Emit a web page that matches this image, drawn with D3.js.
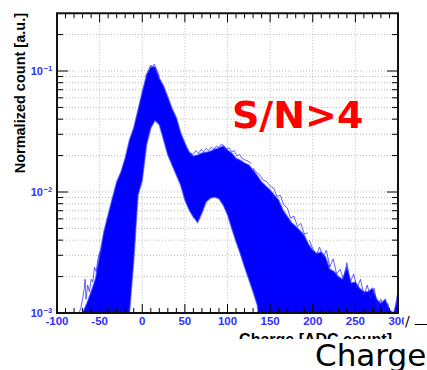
<!DOCTYPE html>
<html>
<head>
<meta charset="utf-8">
<script src="https://cdn.jsdelivr.net/npm/d3@7"></script>
<style>
  html, body { margin: 0; padding: 0; background: #fff; }
  svg { display: block; }
</style>
</head>
<body>
<svg id="chart" width="427" height="370"></svg>
<script>
// bin centres of the overlaid charge spectra
const charge = [-80, -75, -70, -65, -60, -55, -50, -45, -40, -35, -30, -25, -20, -15, -10, -5,
  0, 5, 10, 15, 20, 25, 30, 35, 40, 45, 50, 55, 60, 65, 70, 75, 80, 85, 90, 95,
  100, 105, 110, 115, 120, 125, 130, 135, 140, 145, 150, 155, 160, 165, 170, 175, 180, 185, 190, 195,
  200, 205, 210, 215, 220, 225, 230, 235, 240, 245, 250, 255, 260, 265, 270, 275, 280, 285, 290, 295, 300];

// top edge of the bundle of curves
const upper = [0.0006, 0.0008, 0.0010, 0.0012, 0.0015, 0.0019, 0.0030, 0.0047, 0.0065, 0.0089, 0.0121, 0.0146, 0.0191, 0.0269, 0.0338, 0.0475,
  0.067, 0.092, 0.108, 0.108, 0.087, 0.075, 0.061, 0.049, 0.041, 0.031, 0.0254, 0.0213, 0.0198, 0.0202, 0.0210, 0.0213, 0.0217, 0.0226, 0.0231, 0.0240,
  0.0222, 0.0210, 0.0190, 0.0183, 0.0174, 0.0167, 0.0152, 0.0136, 0.0121, 0.0112, 0.0104, 0.0094, 0.0086, 0.0071, 0.0063, 0.0056, 0.0052, 0.0048, 0.0044, 0.0037,
  0.0033, 0.0031, 0.0032, 0.0029, 0.0023, 0.0022, 0.0020, 0.0019, 0.0024, 0.00177, 0.0018, 0.0016, 0.0015, 0.0015, 0.0016, 0.0013, 0.0012, 0.0013, 0.00106, 0.0010, 0.00136];

// bottom edge of the bundle of curves
const lower = [0.0005, 0.0005, 0.0005, 0.0005, 0.0005, 0.0005, 0.0005, 0.0005, 0.0005, 0.0005, 0.0005, 0.0005, 0.0005, 0.0010, 0.0027, 0.0094,
  0.0125, 0.0245, 0.0338, 0.039, 0.036, 0.027, 0.0202, 0.0167, 0.0138, 0.0114, 0.0086, 0.0071, 0.0062, 0.0056, 0.0067, 0.0083, 0.0089, 0.0091, 0.0088, 0.0078,
  0.0065, 0.0050, 0.0039, 0.0031, 0.0024, 0.0019, 0.0015, 0.00116, 0.0005, 0.0005, 0.0005, 0.0005, 0.0005, 0.0005, 0.0005, 0.0005, 0.0005, 0.0005, 0.0005, 0.0005,
  0.0005, 0.0005, 0.0005, 0.0005, 0.0005, 0.0005, 0.0005, 0.0005, 0.0005, 0.0005, 0.0005, 0.0005, 0.0005, 0.0005, 0.0005, 0.0005, 0.0005, 0.0005, 0.0005, 0.0005, 0.0005];

// single noisy curves sticking out of the bundle
const wispLeftX = [-76, -74, -72, -70, -68, -67, -66, -64, -62, -60, -58, -56, -54, -52, -50];
const wispLeftY = [0.0008, 0.0010, 0.0011, 0.0013, 0.0016, 0.0019, 0.0013, 0.0017, 0.0015, 0.0019, 0.0018, 0.0024, 0.0022, 0.0028, 0.0032];
const wispPeakX = [4, 6, 8, 10, 12, 14, 16, 18, 20];
const wispPeakY = [0.090, 0.097, 0.104, 0.112, 0.108, 0.114, 0.106, 0.099, 0.090];
const wispShoulderX = [52, 56, 60, 63, 66, 69, 72, 75, 78, 81, 84, 87, 90, 93, 96, 99, 102, 105, 108, 111, 114, 117, 120, 124, 128];
const wispShoulderY = [0.0230, 0.0210, 0.0205, 0.0220, 0.0208, 0.0225, 0.0215, 0.0230, 0.0220, 0.0235, 0.0225, 0.0240, 0.0232, 0.0250, 0.0238, 0.0228, 0.0232, 0.0215, 0.0220, 0.0198, 0.0205, 0.0190, 0.0185, 0.0180, 0.0172];
const wispFlankX = [130, 134, 138, 142, 146, 150, 154, 158, 162, 166, 170, 174, 178, 182, 186, 190, 194];
const wispFlankY = [0.0158, 0.0145, 0.0138, 0.0125, 0.0122, 0.0112, 0.0108, 0.0092, 0.0094, 0.0078, 0.0074, 0.0061, 0.0063, 0.0052, 0.0055, 0.0045, 0.0046];
const wispRightX = [196, 200, 204, 208, 212, 216, 220, 224, 228, 232, 236, 240, 244, 248, 252, 256, 260, 264, 268, 272, 276, 280, 284, 288, 292, 296, 299];
const wispRightY = [0.0040, 0.0034, 0.0030, 0.0035, 0.0029, 0.0033, 0.0024, 0.0028, 0.0021, 0.0023, 0.0019, 0.0026, 0.0018, 0.0021, 0.0016, 0.0019, 0.0014, 0.0017, 0.0013, 0.0016, 0.0011, 0.0013, 0.0010, 0.0012, 0.0009, 0.0010, 0.0014];

const xTicks = [-100, -50, 0, 50, 100, 150, 200, 250, 300];
const yDecades = [0.001, 0.01, 0.1];
const yLabels = ["\u22123", "\u22122", "\u22121"];

const svg = d3.select("#chart");
const left = 57, right = 398, bottom = 313;

const x = d3.scaleLinear().domain([-100, 300]).range([left, right]);
const y = d3.scaleLog().domain([0.001, 0.3]).range([bottom, bottom - 121 * Math.log10(300)]);
const yTop = y(0.3);

const defs = svg.append("defs");
defs.append("clipPath").attr("id", "frame")
  .append("rect").attr("x", left).attr("y", yTop).attr("width", right - left).attr("height", bottom - yTop);
defs.append("clipPath").attr("id", "page")
  .append("rect").attr("x", 0).attr("y", 0).attr("width", 404).attr("height", 339);

const plot = svg.append("g").attr("clip-path", "url(#page)");

// dotted grid
const minorY = [];
[0.001, 0.01, 0.1].forEach(d => { for (let k = 1; k <= 9; k++) if (d * k <= 0.3) minorY.push(d * k); });
plot.append("g").selectAll("line").data(minorY.filter(v => v > 0.001)).enter().append("line")
  .attr("x1", left).attr("x2", right).attr("y1", d => y(d)).attr("y2", d => y(d))
  .attr("stroke", "#aaa").attr("stroke-width", 0.8).attr("stroke-dasharray", "1,2");
plot.append("g").selectAll("line").data(xTicks.slice(1, -1)).enter().append("line")
  .attr("x1", d => x(d)).attr("x2", d => x(d)).attr("y1", yTop).attr("y2", bottom)
  .attr("stroke", "#aaa").attr("stroke-width", 0.8).attr("stroke-dasharray", "1,2");

// bundle of curves
const bins = charge.map((c, i) => ({ c, lo: lower[i], hi: upper[i] }));
const g = plot.append("g").attr("clip-path", "url(#frame)");
g.append("path").datum(bins)
  .attr("d", d3.area().x(d => x(d.c)).y0(d => y(d.lo)).y1(d => y(d.hi)))
  .attr("fill", "#0000ff");
g.append("path").datum(bins)
  .attr("d", d3.line().x(d => x(d.c)).y(d => y(d.hi)))
  .attr("fill", "none").attr("stroke", "#3a3aff").attr("stroke-opacity", 0.6).attr("stroke-width", 1.5);
g.append("path").datum(bins)
  .attr("d", d3.line().x(d => x(d.c)).y(d => y(d.lo)))
  .attr("fill", "none").attr("stroke", "#3a3aff").attr("stroke-opacity", 0.6).attr("stroke-width", 1.5);
const wisp = (xs, ys) => xs.map((c, i) => [c, ys[i]]);
[wisp(wispLeftX, wispLeftY), wisp(wispPeakX, wispPeakY), wisp(wispShoulderX, wispShoulderY),
 wisp(wispFlankX, wispFlankY), wisp(wispRightX, wispRightY)].forEach(w => {
  g.append("path").datum(w)
    .attr("d", d3.line().x(d => x(d[0])).y(d => y(d[1])))
    .attr("fill", "none").attr("stroke", "#2020ff").attr("stroke-opacity", 0.7).attr("stroke-width", 1);
});

// ticks, drawn inward on all four sides
const tk = plot.append("g").attr("stroke", "#000").attr("stroke-width", 1);
d3.range(-100, 301, 10).forEach(v => {
  const len = v % 50 === 0 ? 9 : 5;
  tk.append("line").attr("x1", x(v)).attr("x2", x(v)).attr("y1", bottom).attr("y2", bottom - len);
  tk.append("line").attr("x1", x(v)).attr("x2", x(v)).attr("y1", yTop).attr("y2", yTop + len);
});
minorY.forEach(v => {
  const len = yDecades.includes(v) ? 11 : 6;
  tk.append("line").attr("x1", left).attr("x2", left + len).attr("y1", y(v)).attr("y2", y(v));
  tk.append("line").attr("x1", right).attr("x2", right - len).attr("y1", y(v)).attr("y2", y(v));
});

plot.append("rect").attr("x", left).attr("y", yTop).attr("width", right - left).attr("height", bottom - yTop)
  .attr("fill", "none").attr("stroke", "#111").attr("stroke-width", 2);

// tick labels
const lab = "#3030ff";
plot.append("g").selectAll("text").data(xTicks).enter().append("text")
  .attr("x", d => x(d)).attr("y", 325).attr("text-anchor", "middle")
  .attr("font-family", "Liberation Sans, Arial, sans-serif").attr("font-weight", "bold")
  .attr("font-size", 11.5).attr("fill", lab)
  .text(d => d);
yDecades.forEach((d, i) => {
  plot.append("text").attr("x", 43).attr("y", y(d) + 4).attr("text-anchor", "end")
    .attr("font-family", "Liberation Sans, Arial, sans-serif").attr("font-weight", "bold")
    .attr("font-size", 11).attr("fill", lab).text("10");
  plot.append("text").attr("x", 43.5).attr("y", y(d) - 0.5)
    .attr("font-family", "Liberation Sans, Arial, sans-serif").attr("font-weight", "bold")
    .attr("font-size", 7.5).attr("fill", lab).text(yLabels[i]);
});

// axis titles
plot.append("text").attr("x", 392).attr("y", 345).attr("text-anchor", "end")
  .attr("font-family", "Liberation Sans, Arial, sans-serif").attr("font-weight", "bold")
  .attr("font-size", 16).attr("fill", "#000").text("Charge [ADC count]");
plot.append("text").attr("transform", "translate(25,13) rotate(-90)").attr("text-anchor", "end")
  .attr("font-family", "Liberation Sans, Arial, sans-serif").attr("font-weight", "bold")
  .attr("font-size", 14.5).attr("fill", "#000").text("Normalized count [a.u.]");

// slide annotations
svg.append("text").attr("x", 232).attr("y", 128)
  .attr("font-family", "DejaVu Sans, sans-serif").attr("font-weight", "bold")
  .attr("font-size", 38).attr("fill", "#ff0000").text("S/N>4");
svg.append("text").attr("x", 405).attr("y", 326)
  .attr("font-family", "DejaVu Sans, sans-serif").attr("font-size", 14).attr("fill", "#000").text("/");
svg.append("text").attr("x", 414).attr("y", 328)
  .attr("font-family", "DejaVu Sans, sans-serif").attr("font-size", 14).attr("fill", "#000").text("\u2014");
svg.append("text").attr("x", 315).attr("y", 366)
  .attr("font-family", "DejaVu Sans, sans-serif").attr("font-size", 31).attr("fill", "#000").text("Charge");
</script>
</body>
</html>
